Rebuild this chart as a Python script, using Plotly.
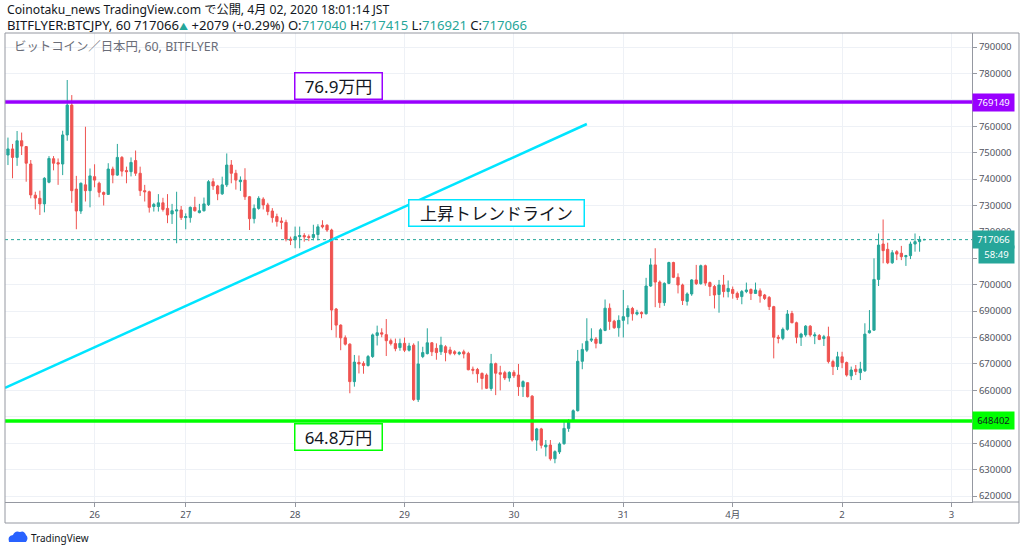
import plotly.graph_objects as go

# BITFLYER BTC/JPY hourly candles, 25 Mar 05:00 -> 2 Apr 18:00 (JST)
opens = [749100, 751400, 748200, 754500, 752300, 745700, 733900, 732700, 730600, 738800,
         747700, 746200, 745700, 756700, 768000, 736200, 727900, 737800, 735600, 740900,
         738400, 734900, 734200, 743800, 741500, 748200, 743200, 742800, 747000, 742200,
         735600, 735200, 729600, 729600, 731000, 728900, 726800, 727900, 728300, 725400,
         725400, 729300, 727300, 728000, 730300, 739000, 737400, 734400, 737800, 745300,
         742200, 739000, 739600, 733300, 725000, 728900, 732400, 730200, 727900, 725800,
         724100, 723600, 717300, 717000, 718200, 718600, 718200, 717900, 719000, 722500,
         722500, 720700, 690800, 684700, 679900, 677500, 663300, 670600, 670200, 669400,
         672800, 680800, 681800, 681100, 678800, 677700, 676200, 677800, 675200, 677100,
         656500, 672800, 673900, 678000, 675900, 674600, 676500, 675300, 674600, 673800,
         674600, 674000, 668000, 667900, 666400, 665800, 660700, 670100, 666700, 666700,
         664700, 666800, 665800, 661400, 662900, 657800, 641200, 645400, 638600, 639300,
         634100, 636700, 639800, 645600, 648200, 652300, 671000, 675200, 679000, 679400,
         677800, 682700, 691100, 686200, 683700, 686500, 687900, 691000, 688900, 689500,
         689000, 699500, 707500, 701000, 693200, 700500, 708400, 702800, 699900, 693700,
         696500, 701800, 700400, 707200, 700800, 699300, 696300, 699900, 697400, 698200,
         696700, 695500, 697400, 698200, 696700, 697700, 696100, 695200, 691700, 680100,
         679700, 683100, 689100, 685600, 680100, 681000, 684300, 680600, 680800, 679600,
         680300, 670900, 669000, 672700, 670500, 665500, 668000, 666700, 667400, 681800,
         682800, 702000, 715400, 713400, 708300, 712500, 711900, 710600, 711000, 715400,
         716300, 717040]
highs = [755700, 753300, 758200, 757600, 752500, 747200, 735200, 735600, 740700, 748700,
         748700, 747800, 758300, 777500, 771800, 741200, 738700, 759800, 744000, 745600,
         739000, 735300, 746000, 744700, 753300, 748700, 744700, 748200, 750800, 744700,
         737800, 735600, 731000, 734300, 732900, 734300, 730600, 735200, 729800, 727000,
         729600, 733300, 730600, 733000, 739600, 740300, 737800, 740900, 749700, 747200,
         743500, 741000, 744100, 733600, 730400, 733500, 733100, 731000, 729000, 726900,
         725500, 724600, 718200, 722000, 722000, 719500, 719000, 722700, 722900, 724400,
         722900, 721200, 691200, 685000, 680800, 677800, 673400, 673200, 671000, 673400,
         681500, 684500, 683500, 687000, 679600, 679600, 679600, 680000, 678000, 677800,
         678600, 676500, 683500, 678300, 677800, 680300, 677100, 676500, 675200, 674800,
         675400, 674600, 669000, 668500, 666800, 666400, 673800, 670500, 669300, 667400,
         667200, 667600, 670000, 663800, 663000, 658200, 645800, 645800, 641200, 641200,
         637300, 640300, 648800, 649100, 652800, 675300, 677800, 687300, 683500, 680200,
         683500, 694400, 692900, 686700, 688400, 698000, 692200, 691600, 690500, 689900,
         702600, 710000, 713800, 701600, 700900, 708700, 708700, 704300, 700400, 697100,
         702100, 707500, 707600, 707600, 701200, 699900, 701800, 703700, 701600, 699300,
         697400, 698000, 700800, 698600, 700800, 698600, 696500, 695700, 692000, 681000,
         683800, 690400, 690100, 686000, 681800, 684700, 684700, 682000, 681300, 681000,
         684100, 671600, 674600, 674600, 670900, 669000, 669600, 670800, 685400, 690400,
         710000, 719400, 724700, 715900, 713100, 713100, 714700, 711300, 716300, 719400,
         718400, 717415]
lows = [745300, 740300, 745000, 749100, 739000, 732700, 728500, 726400, 727400, 738400,
        743300, 737800, 741500, 754500, 731000, 721000, 726800, 731500, 729300, 736900,
        733100, 730000, 734000, 738400, 741200, 741000, 738400, 741000, 741200, 733600,
        731500, 727300, 727700, 727700, 727700, 723300, 723000, 715700, 724500, 721000,
        723500, 727700, 727000, 727700, 729800, 735900, 732000, 734000, 737000, 738400,
        736000, 735500, 732100, 720700, 723200, 728400, 728500, 726300, 723500, 722000,
        721000, 716400, 715000, 713800, 713800, 716300, 716500, 716800, 716800, 721300,
        720000, 682800, 680000, 675200, 677000, 658900, 661400, 666400, 666300, 669000,
        672300, 677000, 680100, 673000, 677000, 674800, 675000, 674500, 674700, 656000,
        655600, 672200, 673600, 673000, 671600, 673400, 671000, 673300, 673300, 673300,
        672100, 667600, 666100, 662900, 660300, 660500, 659800, 658200, 660000, 663900,
        663300, 664700, 657900, 657500, 657300, 640600, 637100, 638000, 635000, 633400,
        632400, 635900, 639400, 644300, 648000, 652000, 668000, 674500, 678300, 675900,
        677500, 682400, 682900, 683300, 680300, 680000, 685000, 686400, 688400, 687300,
        688700, 699200, 691500, 691200, 692000, 700200, 702500, 696700, 692300, 692100,
        695800, 699900, 700000, 699600, 695700, 691000, 689400, 695200, 695200, 694700,
        694200, 692600, 696800, 694200, 696500, 693200, 694200, 690400, 672100, 677800,
        679000, 682600, 685400, 677800, 676800, 680300, 680300, 677500, 679000, 676800,
        670200, 665800, 667700, 668400, 665200, 663900, 665800, 663900, 667000, 681500,
        682600, 699500, 708100, 707800, 707900, 709300, 709300, 707100, 709700, 712500,
        712500, 716921]
closes = [751400, 748200, 754500, 752500, 746000, 734000, 732800, 730600, 740300, 747800,
          746000, 745700, 756700, 768000, 735600, 727900, 738400, 735600, 741200, 739600,
          735000, 734200, 743800, 741500, 748200, 743000, 742800, 746300, 742200, 735600,
          735200, 729300, 730400, 731000, 728500, 726400, 728000, 728300, 725400, 725800,
          729300, 728000, 728000, 730600, 739000, 737400, 734400, 737800, 745300, 742200,
          739600, 739600, 733300, 725000, 728900, 732700, 730200, 727700, 725400, 723900,
          723600, 717300, 716800, 718200, 718600, 718100, 717900, 719000, 721900, 721900,
          720700, 690400, 684700, 679900, 677500, 663300, 670700, 670000, 669400, 672800,
          681000, 681800, 681300, 678800, 677700, 675800, 677800, 675200, 676800, 656500,
          670000, 674300, 678000, 674600, 674300, 677100, 674300, 674000, 674000, 674300,
          673800, 667800, 667600, 666300, 664500, 660800, 670100, 666500, 666100, 664700,
          666800, 665500, 661400, 663300, 657600, 641200, 645400, 639200, 639300, 634100,
          636800, 639700, 645600, 648400, 652300, 671000, 675500, 678600, 679400, 677800,
          682900, 691100, 686100, 683700, 686500, 687900, 691000, 689000, 689500, 689000,
          699500, 707500, 701000, 693200, 700500, 708400, 702800, 699900, 694000, 696500,
          701800, 700400, 707200, 700600, 699300, 696100, 699900, 697400, 698600, 696700,
          695200, 697400, 698000, 696700, 698000, 695700, 694800, 691700, 680100, 679700,
          683100, 688900, 685600, 680100, 681300, 684300, 681000, 681000, 679300, 680300,
          670900, 669000, 672700, 670500, 665800, 667700, 667100, 668100, 681300, 682600,
          702000, 715000, 712900, 708300, 712100, 711600, 710600, 711000, 715400, 716300,
          717100, 717066]

# day boundaries, counted in candles
day_ticks = [19, 39, 63, 87, 111, 135, 159, 183, 207]
day_labels = ['26', '27', '28', '29', '30', '31', '4月', '2', '3']

# price scale; 770000 and 650000 sit under the level tags
price_ticks = [620000, 630000, 640000, 650000, 660000, 670000, 680000, 690000, 700000,
               710000, 720000, 730000, 740000, 750000, 760000, 770000, 780000, 790000]
price_labels = ['620000', '630000', '640000', '', '660000', '670000', '680000', '690000',
                '700000', '710000', '720000', '730000', '740000', '750000', '760000', '',
                '780000', '790000']

resistance = 769149
support = 648402
last_price = 717066
trend_x = [-0.65, 127]
trend_y = [660900, 760850]

UP = '#26a69a'
DOWN = '#ef5350'
PURPLE = '#9900ff'
GREEN = '#00ff00'
CYAN = '#00e5ff'
FRAME = '#9598a1'
FONT = 'Noto Sans, Noto Sans CJK JP, sans-serif'

bars = list(range(len(opens)))

fig = go.Figure()
fig.add_trace(go.Candlestick(
    x=bars, open=opens, high=highs, low=lows, close=closes,
    increasing=dict(line=dict(color=UP, width=1), fillcolor=UP),
    decreasing=dict(line=dict(color=DOWN, width=1), fillcolor=DOWN),
    whiskerwidth=0, showlegend=False, hoverinfo='skip',
))
fig.add_trace(go.Scatter(
    x=trend_x, y=trend_y, mode='lines',
    line=dict(color=CYAN, width=2.5), showlegend=False, hoverinfo='skip',
))

shapes = [
    dict(type='line', xref='paper', x0=0, x1=1, yref='y', y0=last_price, y1=last_price,
         line=dict(color=UP, width=1, dash='dot')),
    dict(type='line', xref='paper', x0=0, x1=1, yref='y', y0=resistance, y1=resistance,
         line=dict(color=PURPLE, width=3.5)),
    dict(type='line', xref='paper', x0=0, x1=1, yref='y', y0=support, y1=support,
         line=dict(color=GREEN, width=3.5)),
    # outer frame and price-scale bottom
    dict(type='rect', xref='paper', yref='paper', x0=0, x1=1.0486, y0=-0.0448, y1=1,
         line=dict(color=FRAME, width=1)),
    dict(type='line', xref='paper', yref='paper', x0=1, x1=1.0486, y0=0, y1=0,
         line=dict(color=FRAME, width=1)),
    # little logo cloud
    dict(type='path', xref='paper', yref='paper', xsizemode='pixel', ysizemode='pixel',
         xanchor=0.0124, yanchor=-0.0768,
         path='M -8,-4 Q -10,2 -4,3 Q -2,8 3,6 Q 7,8 9,3 Q 12,0 9,-4 Z',
         fillcolor='#2962ff', line=dict(width=0)),
]

hdr = ('BITFLYER:BTCJPY, 60 717066<span style="color:%s;font-size:9px">▲</span> +2079 (+0.29%%) '
       'O:<span style="color:%s">717040</span> H:<span style="color:%s">717415</span> '
       'L:<span style="color:%s">716921</span> C:<span style="color:%s">717066</span>'
       % (UP, UP, UP, UP, UP))

annotations = [
    dict(xref='paper', yref='paper', x=0, y=1.051, xanchor='left', yanchor='middle',
         text='Coinotaku_news TradingView.com で公開, 4月 02, 2020 18:01:14 JST',
         showarrow=False, font=dict(size=12.2, color='#131722')),
    dict(xref='paper', yref='paper', x=0, y=1.016, xanchor='left', yanchor='middle',
         text=hdr, showarrow=False, font=dict(size=13.1, color='#131722')),
    dict(xref='paper', yref='paper', x=0.007, y=0.972, xanchor='left', yanchor='middle',
         text='ビットコイン／日本円, 60, BITFLYER', showarrow=False,
         font=dict(size=12.4, color='#6a6d78')),
    dict(xref='paper', yref='paper', x=0.025, y=-0.077, xanchor='left', yanchor='middle',
         text='TradingView', showarrow=False, font=dict(size=10, color='#131722')),
    # drawing labels
    dict(x=62.8, y=resistance, xanchor='left', yanchor='bottom', yshift=2,
         text='76.9万円', showarrow=False, font=dict(size=17, color='#131722'),
         bgcolor='white', bordercolor=PURPLE, borderwidth=1.5, borderpad=1, width=84),
    dict(x=62.8, y=support, xanchor='left', yanchor='top', yshift=-2,
         text='64.8万円', showarrow=False, font=dict(size=17, color='#131722'),
         bgcolor='white', bordercolor=GREEN, borderwidth=1.5, borderpad=1, width=84),
    dict(x=87.8, y=727300, xanchor='left', yanchor='middle',
         text='上昇トレンドライン', showarrow=False, font=dict(size=17, color='#131722'),
         bgcolor='white', bordercolor=CYAN, borderwidth=1.5, borderpad=1, width=172),
    # price-scale tags
    dict(xref='paper', x=1, y=resistance, xanchor='left', yanchor='middle',
         text='769149', showarrow=False, font=dict(size=9.5, color='white'),
         bgcolor=PURPLE, borderpad=2, width=37),
    dict(xref='paper', x=1, y=last_price, xanchor='left', yanchor='middle',
         text='717066', showarrow=False, font=dict(size=9.5, color='white'),
         bgcolor=UP, borderpad=2, width=37),
    dict(xref='paper', x=1, y=last_price, xanchor='left', yanchor='middle', yshift=-15,
         xshift=6, text='58:49', showarrow=False, font=dict(size=9.5, color='white'),
         bgcolor=UP, borderpad=2, width=31),
    dict(xref='paper', x=1, y=support, xanchor='left', yanchor='middle',
         text='648402', showarrow=False, font=dict(size=9.5, color='#131722'),
         bgcolor=GREEN, borderpad=2, width=37),
]

fig.update_layout(
    width=1024, height=552,
    margin=dict(l=5, r=52, t=33, b=50),
    paper_bgcolor='white', plot_bgcolor='white',
    font=dict(family=FONT, size=11, color='#131722'),
    showlegend=False,
    shapes=shapes,
    annotations=annotations,
    xaxis=dict(
        range=[-0.65, 211.5], tickvals=day_ticks, ticktext=day_labels,
        showgrid=True, gridcolor='#eef1f6', zeroline=False,
        ticks='outside', ticklen=4, tickcolor=FRAME,
        showline=True, linecolor=FRAME, automargin=False,
        tickfont=dict(size=9.5, color='#50535e'),
        rangeslider=dict(visible=False),
    ),
    yaxis=dict(
        side='right', range=[617730, 795300],
        tickvals=price_ticks, ticktext=price_labels,
        showgrid=True, gridcolor='#eef1f6', zeroline=False,
        ticks='outside', ticklen=4, tickcolor=FRAME,
        showline=True, linecolor=FRAME, automargin=False,
        tickfont=dict(size=9.5, color='#50535e'),
    ),
)

fig.write_html('out.html', config={'displayModeBar': False},
               post_script="document.body.style.margin='0';")
